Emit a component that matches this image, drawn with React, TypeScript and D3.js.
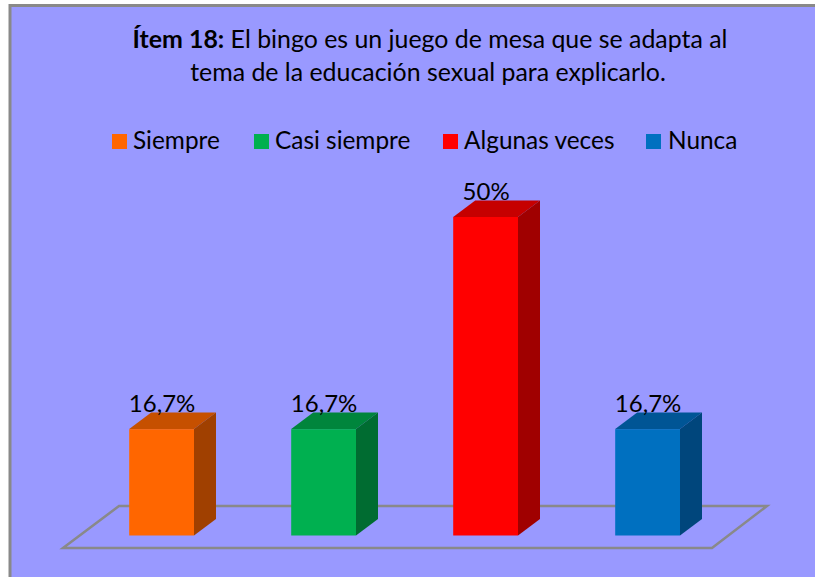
import React from "react";
import * as d3 from "d3";

const categories = ["Siempre", "Casi siempre", "Algunas veces", "Nunca"];
const values = [16.7, 16.7, 50, 16.7];
const valueLabels = ["16,7%", "16,7%", "50%", "16,7%"];
const frontColors = ["#ff6600", "#00b050", "#ff0000", "#0070c0"];
const topColors = ["#c65000", "#00853c", "#c60000", "#005595"];
const sideColors = ["#a04000", "#006c31", "#a00000", "#00467c"];
const legendSwatchX = [112, 254, 443, 646];
const legendTextX = [133, 275, 464, 668];

const FONT = "Lato, Carlito, sans-serif";

export default function App() {
  const x = d3.scaleBand<string>().domain(categories).range([80.6, 728.6]).paddingInner(0.6).paddingOuter(0.3);
  const y = d3.scaleLinear().domain([0, 50]).range([535.5, 217]);
  const dx = 22;
  const dy = -16.5;
  const w = x.bandwidth();
  const base = y(0);
  const poly = d3.line<[number, number]>().curve(d3.curveLinearClosed);

  return (
    <svg width={815} height={577} style={{ position: "absolute", left: 0, top: 0, display: "block" }} fontFamily={FONT}>
      <rect width={815} height={577} fill="#ffffff" />
      <rect x={10} y={5.5} width={830} height={600} fill="#9999ff" stroke="#898989" strokeWidth={3} />
      <path d={poly([[63, 548], [712, 548], [767, 506], [119, 506]]) ?? ""} fill="none" stroke="#898989" strokeWidth={2.5} />
      <text x={430} y={48} textAnchor="middle" fontSize={24.9} fill="#000">
        <tspan fontWeight={700}>Ítem 18:</tspan> El bingo es un juego de mesa que se adapta al
      </text>
      <text x={428} y={81} textAnchor="middle" fontSize={24.9} fill="#000">
        tema de la educación sexual para explicarlo.
      </text>
      {categories.map((c, i) => (
        <g key={c}>
          <rect x={legendSwatchX[i]} y={134} width={15} height={15} fill={frontColors[i]} />
          <text x={legendTextX[i]} y={149} fontSize={24.4} fill="#000">{c}</text>
        </g>
      ))}
      {categories.map((c, i) => {
        const x0 = x(c) ?? 0;
        const x1 = x0 + w;
        const top = y(values[i]);
        return (
          <g key={c}>
            <path d={poly([[x0, top], [x1, top], [x1 + dx, top + dy], [x0 + dx, top + dy]]) ?? ""} fill={topColors[i]} />
            <path d={poly([[x1, top], [x1 + dx, top + dy], [x1 + dx, base + dy], [x1, base]]) ?? ""} fill={sideColors[i]} />
            <rect x={x0} y={top} width={w} height={base - top} fill={frontColors[i]} />
            <text x={x0 + w / 2 + 0.5} y={top - 17.5} textAnchor="middle" fontSize={24} fill="#000">{valueLabels[i]}</text>
          </g>
        );
      })}
    </svg>
  );
}
